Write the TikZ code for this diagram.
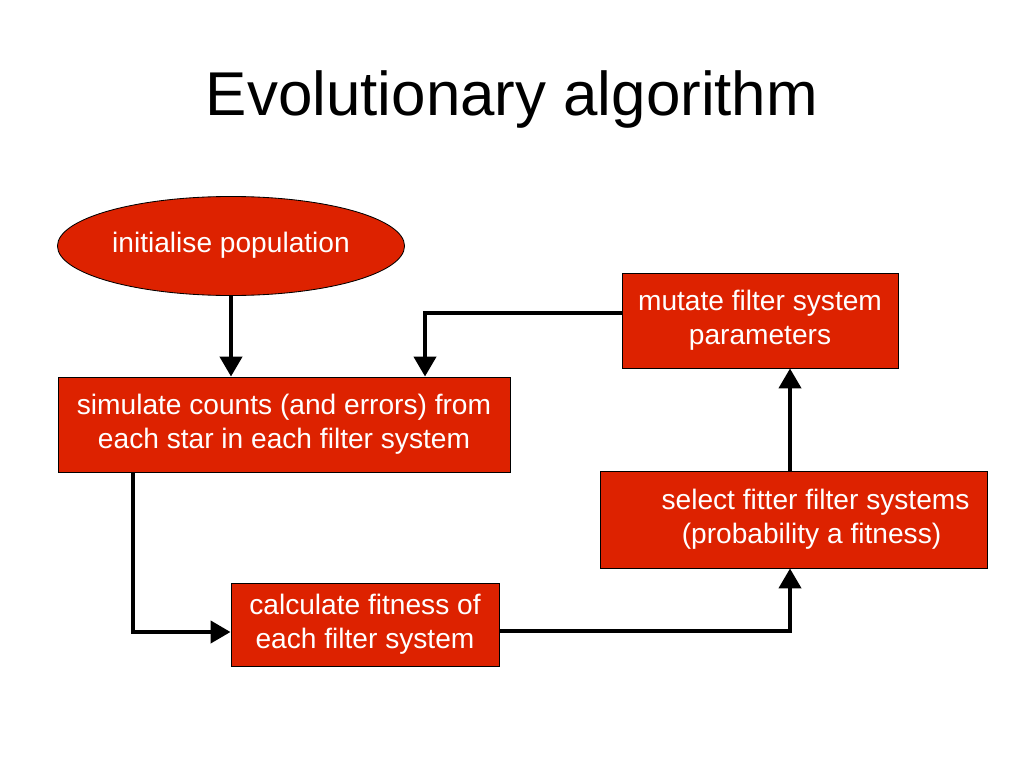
\documentclass[tikz,border=0pt]{standalone}
\usepackage{fontspec}
\setmainfont{Liberation Sans}
\usepackage{xcolor}
\usetikzlibrary{arrows.meta,shapes.geometric}
\definecolor{boxred}{RGB}{221,34,0}
\tikzset{>=Stealth}

\begin{document}
\begin{tikzpicture}[
    x=0.025cm, y=-0.025cm,
    stagebox/.style={rectangle, draw=black, line width=0.6pt, fill=boxred,
        text=white, align=center, inner sep=0pt,
        font=\fontsize{20}{24}\selectfont},
    startnode/.style={ellipse, draw=black, line width=0.6pt, fill=boxred,
        text=white, inner sep=0pt, minimum width=8.675cm,
        minimum height=2.475cm, font=\fontsize{20}{24}\selectfont},
    flowarrow/.style={draw=black, line width=3pt,
        -{Triangle[length=0.5cm,width=0.55cm]}}
]
    \useasboundingbox (0,0) rectangle (1024,768);

    \node[font=\fontsize{44}{52}\selectfont] (title) at (512,100) {Evolutionary algorithm};

    \node[startnode] (init) at (231,246) {initialise population\\[-0.6ex]\strut};
    \node[stagebox, minimum width=11.3cm, minimum height=2.375cm] (simulate) at (284,424.5)
        {simulate counts (and errors) from\\each star in each filter system};
    \node[stagebox, minimum width=6.9cm, minimum height=2.375cm] (mutate) at (760,320.5)
        {mutate filter system\\parameters};
    \node[stagebox, minimum width=9.675cm, minimum height=2.425cm] (select) at (793.5,519.5)
        {\hspace*{1.1cm}select fitter filter systems\\\hspace*{0.9cm}(probability a fitness)};
    \node[stagebox, minimum width=6.7cm, minimum height=2.075cm] (fitness) at (365,624.5)
        {calculate fitness of\\each filter system};

    \coordinate (turnA) at (425,313);
    \coordinate (turnB) at (133,632);
    \coordinate (turnC) at (790,631);

    \draw[flowarrow] (init.south) -- (init.south |- simulate.north);
    \draw[flowarrow] (mutate.west |- turnA) -- (turnA) -- (turnA |- simulate.north);
    \draw[flowarrow] (turnB |- simulate.south) -- (turnB) -- (fitness.west |- turnB);
    \draw[flowarrow] (fitness.east |- turnC) -- (turnC) -- (turnC |- select.south);
    \draw[flowarrow] (turnC |- select.north) -- (turnC |- mutate.south);
\end{tikzpicture}
\end{document}
